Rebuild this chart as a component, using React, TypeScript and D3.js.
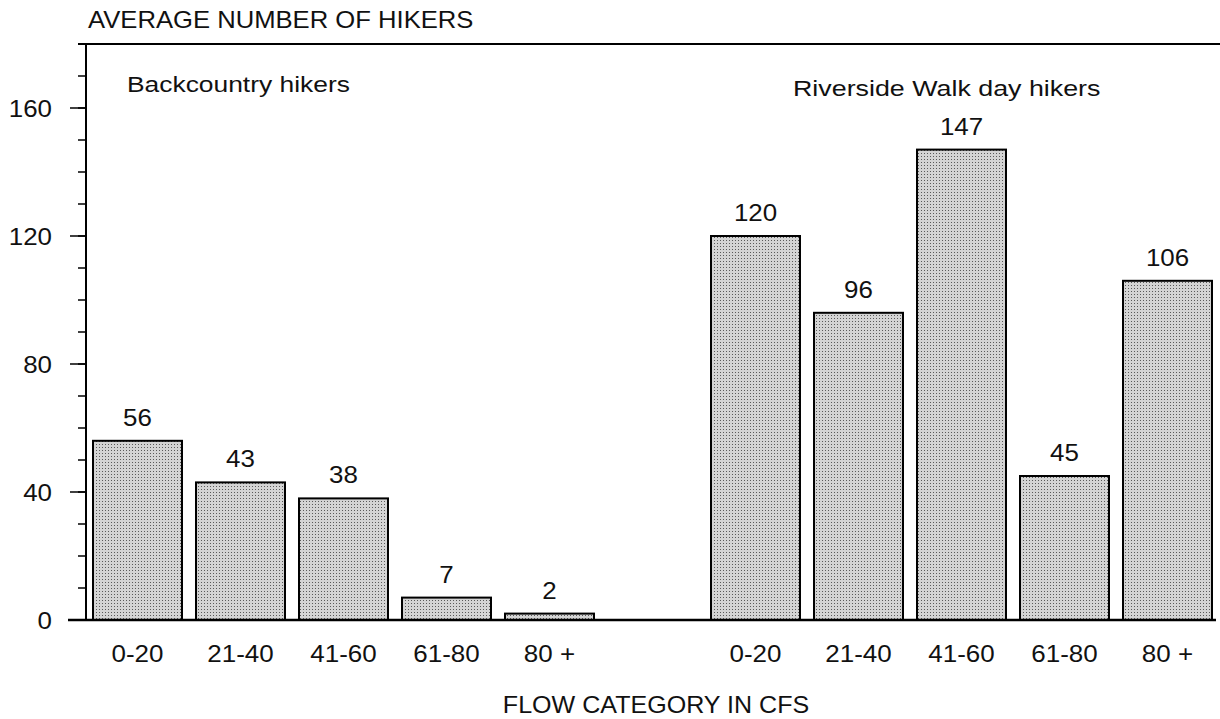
import React, { useEffect, useRef } from 'react';
import * as d3 from 'd3';

// flow categories (same for both hiker groups)
const categories = ['0-20', '21-40', '41-60', '61-80', '80 +'];
// average number of hikers per flow category
const backcountry = [56, 43, 38, 7, 2];
const riverside = [120, 96, 147, 45, 106];
const yTicks = [0, 40, 80, 120, 160];
const minorTicks = d3.range(0, 180, 10);

const App: React.FC = () => {
  const svgRef = useRef<SVGSVGElement | null>(null);

  useEffect(() => {
    const svg = d3.select(svgRef.current);
    svg.selectAll('*').remove();

    const width = 1220;
    const height = 719;
    const font = 'Liberation Sans, Arial, sans-serif';
    const fs = 23;
    const sx = 1.12; // the scan is a bit wider than the type

    // small helper: text stretched horizontally like the scanned original
    const label = (
      x: number,
      y: number,
      text: string | number,
      anchor = 'start',
      size = fs,
      stretch = sx
    ) =>
      svg
        .append('text')
        .attr('transform', `translate(${x},${y}) scale(${stretch},1)`)
        .attr('text-anchor', anchor)
        .attr('font-family', font)
        .attr('font-size', size)
        .attr('fill', '#111')
        .text(text);

    // one band per bar, with an empty slot between the two groups
    const rows = [
      ...categories.map((c, i) => ({ key: 'b' + i, label: c, value: backcountry[i] as number | null })),
      { key: 'gap', label: '', value: null },
      ...categories.map((c, i) => ({ key: 'r' + i, label: c, value: riverside[i] as number | null })),
    ];

    const x = d3
      .scaleBand()
      .domain(rows.map(d => d.key))
      .range([86, 1219])
      .paddingInner(0.136)
      .paddingOuter(0.068);

    const y = d3.scaleLinear().domain([0, 180]).range([620, 44]);

    // stipple pattern for the bars
    const defs = svg.append('defs');
    const pat = defs
      .append('pattern')
      .attr('id', 'stipple')
      .attr('width', 3)
      .attr('height', 3)
      .attr('patternUnits', 'userSpaceOnUse');
    pat.append('rect').attr('width', 3).attr('height', 3).attr('fill', '#d4d4d4');
    pat.append('rect').attr('width', 1).attr('height', 1).attr('fill', '#5a5a5a');

    svg.append('rect').attr('width', width).attr('height', height).attr('fill', '#fff');

    // axis title
    label(88, 28, 'AVERAGE NUMBER OF HIKERS', 'start', 23, 1.115);

    // top frame line
    svg
      .append('line')
      .attr('x1', 78)
      .attr('x2', 1220)
      .attr('y1', y(180))
      .attr('y2', y(180))
      .attr('stroke', '#000')
      .attr('stroke-width', 2);

    // y axis line
    svg
      .append('line')
      .attr('x1', 86)
      .attr('x2', 86)
      .attr('y1', y(180))
      .attr('y2', y(0))
      .attr('stroke', '#000')
      .attr('stroke-width', 2);

    // minor ticks
    svg
      .selectAll('.minor')
      .data(minorTicks)
      .enter()
      .append('line')
      .attr('x1', 78)
      .attr('x2', 86)
      .attr('y1', d => y(d))
      .attr('y2', d => y(d))
      .attr('stroke', '#000')
      .attr('stroke-width', 1.5);

    // major ticks + labels
    svg
      .selectAll('.major')
      .data(yTicks)
      .enter()
      .append('line')
      .attr('x1', 70)
      .attr('x2', 86)
      .attr('y1', d => y(d))
      .attr('y2', d => y(d))
      .attr('stroke', '#000')
      .attr('stroke-width', 1.5);
    yTicks.forEach(t => label(52, y(t) + 9, t, 'end', 24, 1.08));

    // bars
    const bars = rows.filter(d => d.value !== null);
    svg
      .selectAll('.bar')
      .data(bars)
      .enter()
      .append('rect')
      .attr('x', d => x(d.key)!)
      .attr('y', d => y(d.value!))
      .attr('width', x.bandwidth())
      .attr('height', d => y(0) - y(d.value!))
      .attr('fill', 'url(#stipple)')
      .attr('stroke', '#000')
      .attr('stroke-width', 2);

    // value labels and category labels
    bars.forEach(d => {
      const cx = x(d.key)! + x.bandwidth() / 2;
      label(cx, y(d.value!) - 15, d.value!, 'middle', 24, 1.08);
      label(cx, 662, d.label, 'middle', 23, 1.13);
    });

    // baseline
    svg
      .append('line')
      .attr('x1', 68)
      .attr('x2', 1216)
      .attr('y1', y(0))
      .attr('y2', y(0))
      .attr('stroke', '#000')
      .attr('stroke-width', 2.5);

    // group labels
    label(127, 92, 'Backcountry hikers', 'start', 22, 1.2);
    label(793, 96, 'Riverside Walk day hikers', 'start', 22, 1.22);

    // x axis title
    label(656, 713, 'FLOW CATEGORY IN CFS', 'middle', 23, 1.09);
  }, []);

  return (
    <div style={{ position: 'absolute', left: 0, top: 0 }}>
      <svg ref={svgRef} width={1220} height={719} style={{ display: 'block' }}></svg>
    </div>
  );
};

export default App;
